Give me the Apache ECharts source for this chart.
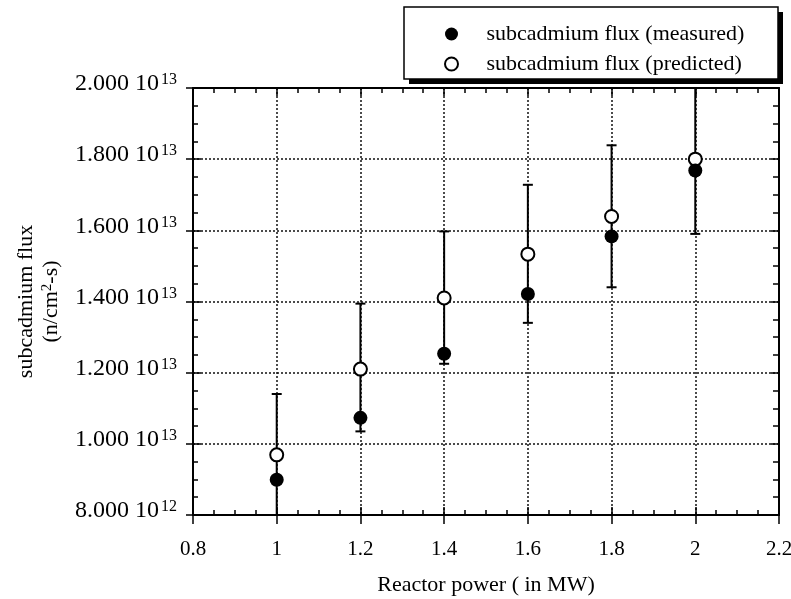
<!DOCTYPE html>
<html>
<head>
<meta charset="utf-8">
<script src="https://cdn.jsdelivr.net/npm/echarts@6/dist/echarts.min.js"></script>
<style>
  html, body { margin: 0; padding: 0; background: #fff; }
  #chart { width: 791px; height: 599px; }
</style>
</head>
<body>
<div id="chart"></div>
<script>
// reactor power (MW)
var power = [1, 1.2, 1.4, 1.6, 1.8, 2];
// subcadmium flux, n/cm2-s
var measured = [8.99e12, 1.073e13, 1.253e13, 1.421e13, 1.583e13, 1.768e13];
var predicted = [9.69e12, 1.210e13, 1.410e13, 1.533e13, 1.639e13, 1.800e13];
// error bar ends
var errLow = [7.98e12, 1.035e13, 1.225e13, 1.340e13, 1.440e13, 1.590e13];
var errHigh = [1.140e13, 1.394e13, 1.597e13, 1.728e13, 1.839e13, 2.010e13];

var seriesNames = ['subcadmium flux (measured)', 'subcadmium flux (predicted)'];
var serif = "'Liberation Serif', 'Times New Roman', serif";

var chart = echarts.init(document.getElementById('chart'));

// 2.000 10^13 style labels
function sciLabel(v) {
  var exp = Math.floor(Math.log10(v) + 1e-9);
  var mant = v / Math.pow(10, exp);
  return '{m|' + mant.toFixed(3) + ' 10}{s|' + exp + '}';
}

var dotted = { color: '#111', width: 1.5, type: [2, 2] };

var measuredData = power.map(function (p, i) { return [p, measured[i]]; });
var predictedData = power.map(function (p, i) { return [p, predicted[i]]; });
var errData = power.map(function (p, i) { return [p, errLow[i], errHigh[i]]; });

var option = {
  backgroundColor: '#fff',
  animation: false,
  textStyle: { fontFamily: serif },
  grid: { left: 193, right: 12, top: 88, bottom: 84, outerBoundsMode: 'none', containLabel: false },
  legend: {
    data: seriesNames,
    orient: 'vertical',
    left: 439,
    top: 18,
    itemWidth: 60,
    itemHeight: 13,
    itemGap: 8,
    z: 10,
    textStyle: { fontFamily: serif, fontSize: 22, lineHeight: 16, color: '#000' }
  },
  graphic: [
    { type: 'rect', z: 8, shape: { x: 409, y: 12, width: 374, height: 72 }, style: { fill: '#000' } },
    { type: 'rect', z: 8, shape: { x: 404, y: 7, width: 374, height: 72 }, style: { fill: '#fff', stroke: '#000', lineWidth: 1.5 } }
  ],
  xAxis: [
    {
      type: 'value', position: 'bottom', min: 0.8, max: 2.2, interval: 0.2,
      name: 'Reactor power ( in MW)', nameLocation: 'middle', nameGap: 59,
      nameTextStyle: { fontFamily: serif, fontSize: 22, color: '#000' },
      axisLine: { onZero: false, lineStyle: { color: '#000', width: 2 } },
      axisTick: { inside: true, length: 8, lineStyle: { color: '#000', width: 1.5 } },
      minorTick: { show: true, splitNumber: 4, length: 5, lineStyle: { color: '#000', width: 1.5 } },
      splitLine: { show: true, lineStyle: dotted },
      axisLabel: { margin: 24, fontFamily: serif, fontSize: 21, color: '#000' }
    },
    {
      type: 'value', position: 'top', min: 0.8, max: 2.2, interval: 0.2,
      axisLine: { onZero: false, lineStyle: { color: '#000', width: 2 } },
      axisTick: { inside: true, length: 8, lineStyle: { color: '#000', width: 1.5 } },
      minorTick: { show: true, splitNumber: 4, length: 5, lineStyle: { color: '#000', width: 1.5 } },
      splitLine: { show: false },
      axisLabel: { show: false }
    },
    {
      type: 'value', position: 'bottom', min: 0.8, max: 2.2, interval: 0.2,
      axisLine: { show: false, onZero: false },
      axisTick: { inside: false, length: 9, lineStyle: { color: '#000', width: 1.5 } },
      splitLine: { show: false },
      axisLabel: { show: false }
    }
  ],
  yAxis: [
    {
      type: 'value', position: 'left', min: 8e12, max: 2e13, interval: 2e12,
      name: 'subcadmium flux\n(n/cm{s|2}-s)', nameLocation: 'middle', nameRotate: 90, nameGap: 125,
      nameTextStyle: {
        fontFamily: serif, fontSize: 22, color: '#000', lineHeight: 25, align: 'center',
        rich: { s: { fontFamily: serif, fontSize: 15, color: '#000', verticalAlign: 'top', lineHeight: 25 } }
      },
      axisLine: { onZero: false, lineStyle: { color: '#000', width: 2 } },
      axisTick: { inside: true, length: 8, lineStyle: { color: '#000', width: 1.5 } },
      minorTick: { show: true, splitNumber: 4, length: 5, lineStyle: { color: '#000', width: 1.5 } },
      splitLine: { show: true, lineStyle: dotted },
      axisLabel: {
        margin: 16,
        padding: [0, 0, 8, 0],
        formatter: sciLabel,
        rich: {
          m: { fontFamily: serif, fontSize: 24, color: '#000', lineHeight: 24, verticalAlign: 'bottom' },
          s: { fontFamily: serif, fontSize: 16, color: '#000', lineHeight: 16, verticalAlign: 'top', padding: [0, 0, 0, 2] }
        }
      }
    },
    {
      type: 'value', position: 'right', min: 8e12, max: 2e13, interval: 2e12,
      axisLine: { onZero: false, lineStyle: { color: '#000', width: 2 } },
      axisTick: { inside: true, length: 8, lineStyle: { color: '#000', width: 1.5 } },
      minorTick: { show: true, splitNumber: 4, length: 6, lineStyle: { color: '#000', width: 1.5 } },
      splitLine: { show: false },
      axisLabel: { show: false }
    },
    {
      type: 'value', position: 'left', min: 8e12, max: 2e13, interval: 2e12,
      axisLine: { show: false, onZero: false },
      axisTick: { inside: false, length: 7, lineStyle: { color: '#000', width: 1.5 } },
      splitLine: { show: false },
      axisLabel: { show: false }
    }
  ],
  series: [
    {
      name: 'error',
      type: 'custom',
      xAxisIndex: 0,
      yAxisIndex: 0,
      clip: true,
      z: 2,
      encode: { x: 0, y: [1, 2] },
      data: errData,
      renderItem: function (params, api) {
        var x = api.value(0);
        var top = api.coord([x, api.value(2)]);
        var bot = api.coord([x, api.value(1)]);
        var w = 5;
        var st = { stroke: '#000', lineWidth: 2 };
        return {
          type: 'group',
          children: [
            { type: 'line', shape: { x1: top[0], y1: top[1], x2: bot[0], y2: bot[1] }, style: st },
            { type: 'line', shape: { x1: top[0] - w, y1: top[1], x2: top[0] + w, y2: top[1] }, style: st },
            { type: 'line', shape: { x1: bot[0] - w, y1: bot[1], x2: bot[0] + w, y2: bot[1] }, style: st }
          ]
        };
      }
    },
    {
      name: seriesNames[1],
      type: 'scatter',
      z: 3,
      symbol: 'circle',
      symbolSize: 13,
      itemStyle: { color: '#fff', borderColor: '#000', borderWidth: 2, opacity: 1 },
      data: predictedData
    },
    {
      name: seriesNames[0],
      type: 'scatter',
      z: 4,
      symbol: 'circle',
      symbolSize: 14,
      itemStyle: { color: '#000', opacity: 1 },
      data: measuredData
    }
  ]
};

chart.setOption(option);
</script>
</body>
</html>
